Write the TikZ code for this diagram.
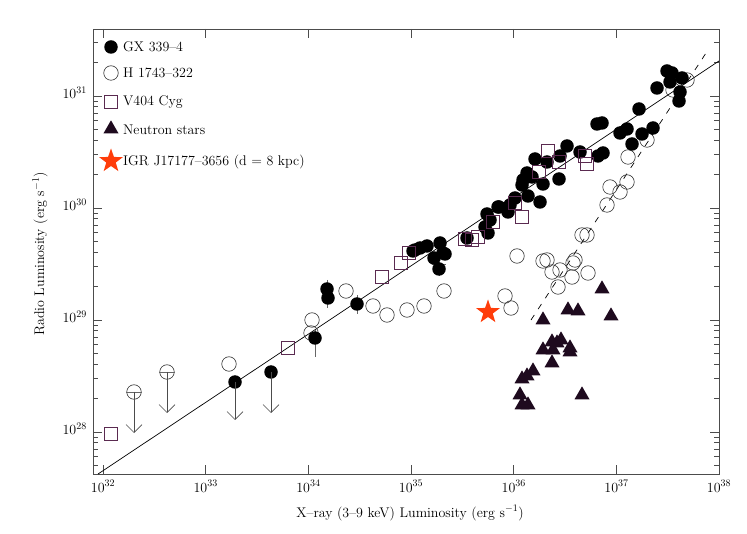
\documentclass[tikz,border=0pt]{standalone}
\usepackage{fontspec}
\usetikzlibrary{shapes.geometric,arrows.meta}
\definecolor{sqc}{HTML}{5A2A50}
\definecolor{trc}{HTML}{1E0A1E}
\definecolor{stc}{HTML}{FF3D0A}
\newcommand{\pg}{\addfontfeature{LetterSpace=12}}
\tikzset{
 gx/.style={circle,fill=black,inner sep=0pt,minimum size=13.5pt},
 hh/.style={circle,draw=black!80,line width=0.6pt,fill=none,inner sep=0pt,minimum size=14.5pt},
 vv/.style={rectangle,draw=sqc,line width=0.8pt,inner sep=0pt,minimum size=13.5pt},
 ns/.style={isosceles triangle,isosceles triangle apex angle=60,shape border rotate=90,fill=trc,inner sep=0pt,minimum height=13pt},
 igr/.style={star,star points=5,star point ratio=2.5,fill=stc,inner sep=0pt,minimum size=25pt},
 lbl/.style={font=\fontsize{14}{16}\selectfont\pg,inner sep=0pt},
 tk/.style={font=\fontsize{14}{16}\selectfont,inner sep=0pt},
 ul/.style={draw=black!70,line width=0.6pt,-{Straight Barb[length=8pt,width=16pt,line width=0.6pt]}},
 eb/.style={draw=black!60,line width=0.6pt},
 fr/.style={draw=black!70,line width=0.8pt}
}
\begin{document}
\begin{tikzpicture}[x=1pt,y=-1pt]
\useasboundingbox (0,0) rectangle (747,534);
% frame
\draw[fr] (93,29) rectangle (719,474);
% x ticks
\foreach \i/\e in {0/32,1/33,2/34,3/35,4/36,5/37}{
 \pgfmathsetmacro{\xx}{103+102.7*\i}
 \draw[fr] (\xx,474) -- (\xx,465);
 \draw[fr] (\xx,29) -- (\xx,38);
 \node[tk,anchor=base] (xl\e) at (\xx,492) {10$^{\e}$};
}
\node[tk,anchor=base] (xl38) at (719,492) {10$^{38}$};
% y ticks
\foreach \d in {0,1,2,3}{
 \pgfmathsetmacro{\yy}{432-112*\d}
 \draw[fr] (93,\yy) -- (102,\yy);
 \draw[fr] (719,\yy) -- (710,\yy);
 \foreach \m in {2,...,9}{
  \pgfmathsetmacro{\ym}{\yy-112*log10(\m)}
  \ifdim \ym pt>29pt
   \draw[fr] (93,\ym) -- (98,\ym);
   \draw[fr] (719,\ym) -- (714,\ym);
  \fi
  \ifdim \ym pt<474pt\fi
 }
}
\foreach \m in {4,...,9}{
 \pgfmathsetmacro{\ym}{432+112-112*log10(\m)}
 \ifdim \ym pt<474pt
  \draw[fr] (93,\ym) -- (98,\ym);
  \draw[fr] (719,\ym) -- (714,\ym);
 \fi
}
\foreach \d/\e in {0/28,1/29,2/30,3/31}{
 \pgfmathsetmacro{\yy}{432-112*\d}
 \node[tk,anchor=east] (yl\e) at (87,\yy-3) {10$^{\e}$};
}
\node[tk,anchor=base] (xt) at (410,517) {\pg X--ray (3--9 keV) Luminosity (erg s$^{-1}$)};
\node[tk,rotate=90] (yt) at (40,254) {\pg Radio Luminosity (erg s$^{-1}$)};
% fit lines
\coordinate (s1) at (98,474); \coordinate (s2) at (719,61);
\draw[line width=0.7pt] (s1) -- (s2);
\coordinate (d1) at (531,320); \coordinate (d2) at (708,50);
\draw[line width=0.7pt,dash pattern=on 6pt off 7pt] (d1) -- (d2);
% error bars
\draw[eb] (327,280) -- (327,308); \draw[eb] (357,295) -- (357,314);
\draw[eb] (315,330) -- (315,357); \draw[eb] (432,264) -- (446,264);
\draw[eb] (439,262) -- (439,276); \draw[eb] (488,214) -- (488,232);
% H 1743 open circles
\foreach[count=\k] \p in {(346,291),(373,306),(387,315),(407,310),(424,306),(444,291),(312,320),(311,333),(517,256),(505,296),(511,308),(628,157),(647,140),(687,80),(673,90),(610,187),(620,192),(627,182),(607,205),(582,235),(587,235),(543,261),(547,260),(552,272),(560,270),(558,287),(572,277),(573,263),(575,260),(588,273),(229,364)}
 \node[hh] (h\k) at \p {};
% upper limits
\node[hh] (hu1) at (134,392) {}; \draw[eb] (hu1.west) -- (hu1.east);
\node[hh] (hu2) at (167,372) {}; \draw[eb] (hu2.west) -- (hu2.east);
\coordinate (ua1) at (134,433); \coordinate (ua2) at (167,413);
\draw[ul] (hu1.center) -- (ua1); \draw[ul] (hu2.center) -- (ua2);
% GX 339-4
\foreach[count=\k] \p in {(667,71),(672,73),(682,78),(670,82),(657,88),(680,92),(679,101),(639,109),(597,124),(602,123),(620,133),(627,129),(642,134),(653,128),(632,144),(603,153),(598,156),(567,146),(560,156),(580,152),(547,162),(535,159),(527,173),(523,180),(532,177),(522,185),(543,184),(559,179),(528,196),(515,198),(510,205),(540,202),(499,207),(508,212),(487,214),(490,220),(485,227),(488,233),(440,243),(443,253),(427,246),(415,250),(420,248),(413,251),(445,254),(434,258),(439,269),(467,238),(498,207),(327,289),(328,298),(357,304),(315,338)}
 \node[gx] (g\k) at \p {};
\node[gx] (gu1) at (235,382) {}; \node[gx] (gu2) at (271,372) {};
\coordinate (ga1) at (235,420); \coordinate (ga2) at (271,413);
\draw[ul] (gu1.center) -- (ga1); \draw[ul] (gu2.center) -- (ga2);
% V404 Cyg
\foreach[count=\k] \p in {(111,434),(288,348),(382,277),(401,263),(409,253),(465,239),(478,237),(493,222),(515,203),(522,217),(472,240),(539,172),(559,162),(585,156),(587,164),(548,151)}
 \node[vv] (v\k) at \p {};
% neutron stars
\foreach[count=\k] \p in {(602,289),(611,316),(568,310),(578,311),(543,320),(552,342),(561,340),(557,343),(543,350),(553,350),(570,348),(570,352),(552,363),(533,371),(527,376),(522,379),(520,395),(522,405),(528,405),(582,395)}
 \node[ns] (n\k) at \p {};
% IGR
\node[igr] (star) at (488,312) {};
% legend
\node[gx] (lg1) at (111,47) {}; \node[lbl,anchor=west] (lt1) at (123,47) {GX 339--4};
\node[hh] (lg2) at (111,73) {}; \node[lbl,anchor=west] (lt2) at (123,73) {H 1743--322};
\node[vv] (lg3) at (111,102) {}; \node[lbl,anchor=west] (lt3) at (123,102) {V404 Cyg};
\node[ns] (lg4) at (111,129) {}; \node[lbl,anchor=west] (lt4) at (123,130) {Neutron stars};
\node[igr] (lg5) at (111,161) {}; \node[lbl,anchor=west] (lt5) at (123,162) {IGR J17177--3656 (d = 8 kpc)};
\end{tikzpicture}
\end{document}
